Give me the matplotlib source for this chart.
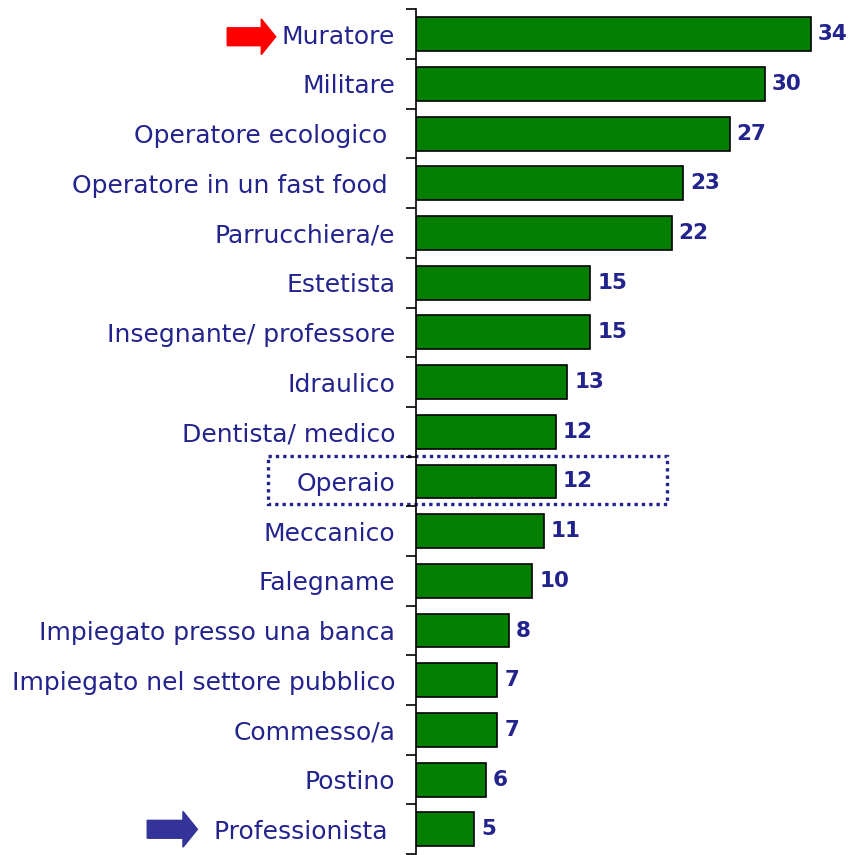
import matplotlib.pyplot as plt
from matplotlib.patches import Rectangle, FancyArrow
from matplotlib.transforms import blended_transform_factory
import numpy as np

plt.rcParams['font.family'] = ['DejaVu Sans']

mestieri = ['Muratore', 'Militare', 'Operatore ecologico ', 'Operatore in un fast food ',
            'Parrucchiera/e', 'Estetista', 'Insegnante/ professore', 'Idraulico',
            'Dentista/ medico', 'Operaio', 'Meccanico', 'Falegname',
            'Impiegato presso una banca', 'Impiegato nel settore pubblico',
            'Commesso/a', 'Postino', 'Professionista ']
valori = [34, 30, 27, 23, 22, 15, 15, 13, 12, 12, 11, 10, 8, 7, 7, 6, 5]

blu = '#23238e'
verde = '#007f00'

fig = plt.figure(figsize=(8.51, 8.55), dpi=100)
ax = fig.add_axes([0.489, 0.001, 0.505, 0.988])

pos = np.arange(len(mestieri))
ax.barh(pos, valori, height=0.68, color=verde, edgecolor='black', linewidth=1.2)
ax.set_ylim(len(mestieri) - 0.5, -0.5)
ax.set_xlim(0, 37)

for p, v in zip(pos, valori):
    ax.text(v + 0.6, p, str(v), va='center', ha='left', color=blu,
            fontsize=15.5, fontweight='bold')

# etichette a sinistra, tacche tra una barra e l'altra
ax.set_yticks(pos)
ax.set_yticklabels(mestieri, fontsize=18, color=blu)
ax.tick_params(axis='y', which='major', length=0, pad=15)
ax.set_yticks(np.arange(-0.5, len(mestieri)), minor=True)
ax.tick_params(axis='y', which='minor', length=7, width=1.2, direction='out')
ax.set_xticks([])
for s in ['top', 'right', 'bottom']:
    ax.spines[s].set_visible(False)
ax.spines['left'].set_linewidth(1.2)

trans = blended_transform_factory(fig.transFigure, ax.transData)

# riquadro tratteggiato attorno a Operaio
ax.add_patch(Rectangle((0.315, 8.48), 0.469, 0.98, transform=trans, fill=False,
                       edgecolor=blu, linestyle=(0, (1, 1.2)), linewidth=2.4,
                       clip_on=False))

# frecce
ax.add_patch(FancyArrow(0.267, 0.05, 0.057, 0, width=0.36, head_width=0.72,
                        head_length=0.017, length_includes_head=True,
                        color='#ff0000', transform=trans, clip_on=False))
ax.add_patch(FancyArrow(0.173, 16.0, 0.059, 0, width=0.36, head_width=0.72,
                        head_length=0.017, length_includes_head=True,
                        color='#333399', transform=trans, clip_on=False))

fig.savefig('out.png', dpi=100)
